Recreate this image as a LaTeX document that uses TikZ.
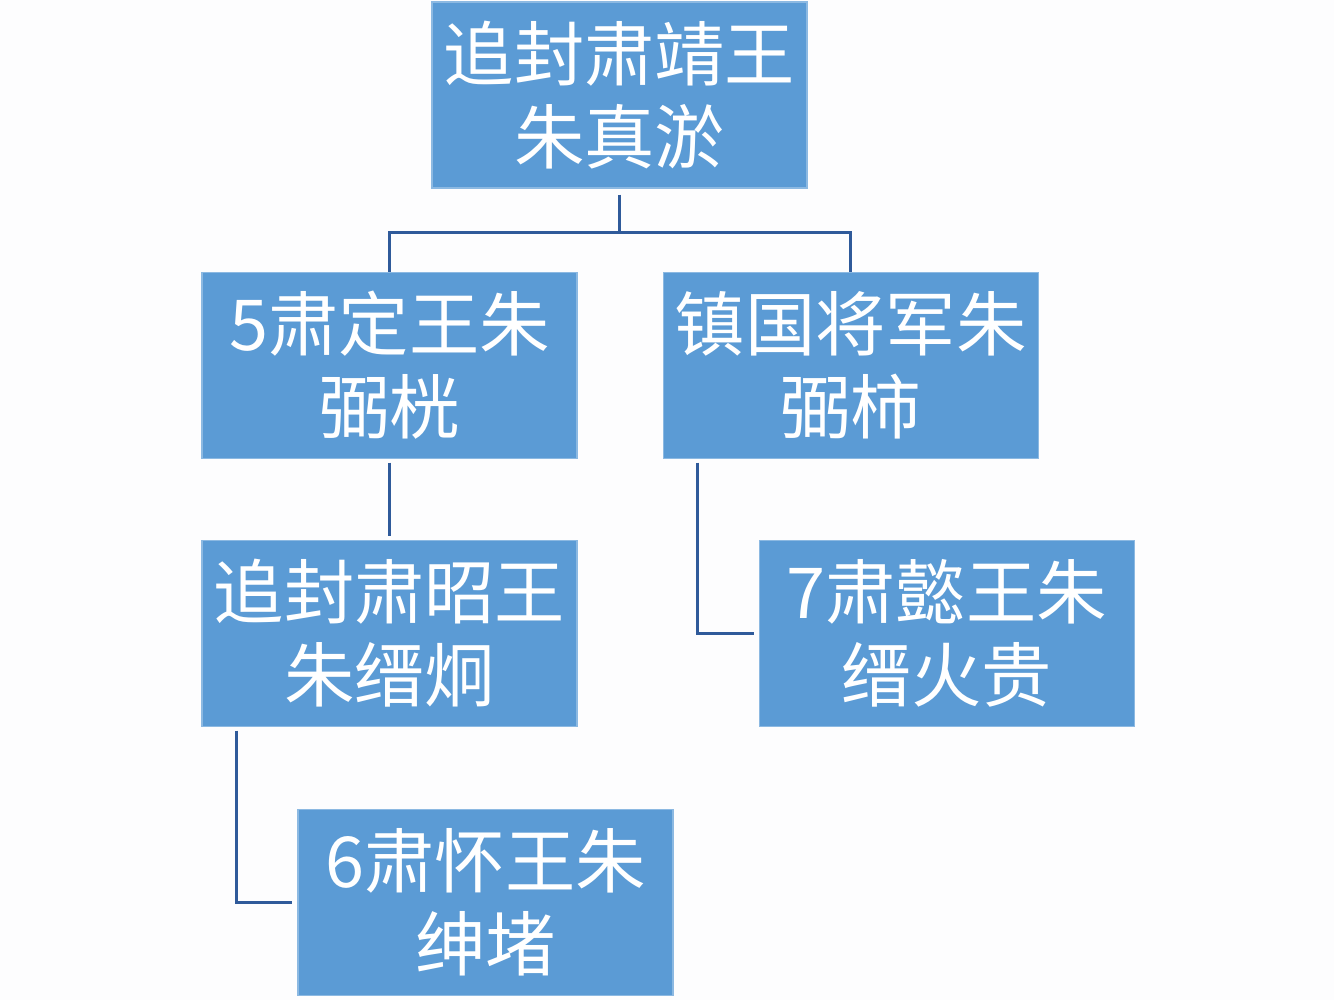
\documentclass[tikz,border=0pt]{standalone}
\usepackage{fontspec}
\newfontfamily\cjk{Noto Sans CJK SC}
\usetikzlibrary{positioning}
\definecolor{boxblue}{HTML}{5B9BD5}
\definecolor{linkblue}{HTML}{2F5A9A}
\definecolor{paper}{HTML}{FDFDFE}

\begin{document}
\begin{tikzpicture}[
  font=\cjk\fontsize{40}{47}\selectfont,
  box/.style={draw=boxblue!70!white, line width=0.6pt, fill=boxblue,
    text=white, align=center, inner sep=0pt,
    minimum width=7.5cm, minimum height=3.72cm},
  link/.style={draw=linkblue, line width=1.7pt}
]
  \fill[paper] (0,0) rectangle (26.68,-20);
  \useasboundingbox (0,0) rectangle (26.68,-20);

  \node[box] (top) at (12.39,-1.9) {追封肃靖王\\朱真淤};

  \node[box, below=1.66cm of top, xshift=-4.6cm] (su5) {5肃定王朱\\弼桄};
  \node[box, right=1.7cm of su5] (zhen) {镇国将军朱\\弼柿};

  \node[box, below=1.62cm of su5] (zhao) {追封肃昭王\\朱缙炯};
  \node[box, right=3.62cm of zhao] (su7) {7肃懿王朱\\缙火贵};

  \node[box, below=1.64cm of zhao, xshift=1.92cm] (su6) {6肃怀王朱\\绅堵};

  % branches
  \draw[link, shorten <=0.12cm] (top.south) -- ++(0,-0.88) coordinate (bus)
    -| (su5.north);
  \draw[link] (bus) -| (zhen.north);
  \draw[link, shorten <=0.08cm, shorten >=0.08cm] (su5.south) -- (zhao.north);
  \draw[link, shorten <=0.08cm, shorten >=0.1cm]
    ([xshift=0.7cm]zhen.south west) |- (su7.west);
  \draw[link, shorten <=0.08cm, shorten >=0.1cm]
    ([xshift=0.7cm]zhao.south west) |- (su6.west);
\end{tikzpicture}
\end{document}
